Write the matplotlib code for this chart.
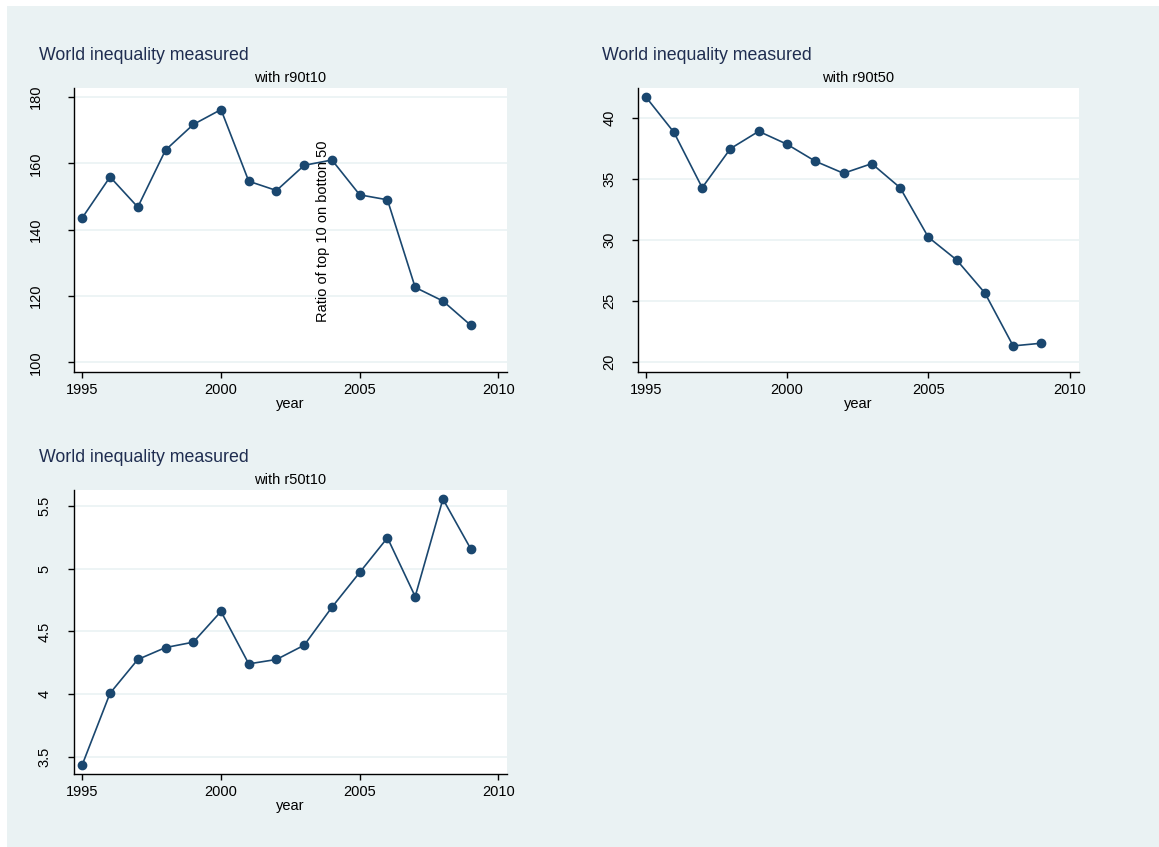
import matplotlib
matplotlib.use("Agg")
import matplotlib.pyplot as plt
from matplotlib.patches import Rectangle

plt.rcParams['font.family'] = ['Liberation Sans', 'DejaVu Sans']

# datos por año
years = list(range(1995, 2010))
r90t10 = [143.6, 155.9, 146.8, 164.0, 171.7, 176.2, 154.6, 151.8,
          159.4, 161.0, 150.5, 149.0, 122.6, 118.5, 111.2]
r90t50 = [41.77, 38.85, 34.31, 37.51, 38.93, 37.87, 36.48, 35.49,
          36.28, 34.31, 30.25, 28.39, 25.68, 21.34, 21.56]
r50t10 = [3.439, 4.008, 4.277, 4.372, 4.415, 4.660, 4.242, 4.277,
          4.391, 4.694, 4.971, 5.247, 4.779, 5.556, 5.160]

xticks = [1995, 2000, 2005, 2010]
yticks_1 = [100, 120, 140, 160, 180]
yticks_2 = [20, 25, 30, 35, 40]
yticks_3 = [3.5, 4, 4.5, 5, 5.5]
ytlabels_3 = ['3.5', '4', '4.5', '5', '5.5']

W, H = 1159, 847
BG = '#eaf2f3'
NAVY = '#1a476f'
TITLE = '#1f2d50'

fig = plt.figure(figsize=(W / 100, H / 100), dpi=100)
fig.patch.set_facecolor('white')
fig.patches.append(Rectangle((7 / W, 0), 1, 1 - 6 / H, transform=fig.transFigure,
                             facecolor=BG, edgecolor='none', zorder=-10))


def px_axes(left, top, right, bottom):
    return fig.add_axes([left / W, 1 - bottom / H, (right - left) / W, (bottom - top) / H])


def panel(box, y, yticks, ylabels, xlim, ylim, ypad, title_x, title_y, sub):
    ax = px_axes(*box)
    ax.set_facecolor('white')
    ax.plot(years, y, color=NAVY, lw=1.2, marker='o', ms=6, mfc=NAVY, mec=NAVY, zorder=3)
    ax.set_xlim(*xlim)
    ax.set_ylim(*ylim)
    ax.set_xticks(xticks)
    ax.set_yticks(yticks)
    ax.set_yticklabels(ylabels, rotation=90, va='center')
    ax.yaxis.grid(True, color=BG, lw=1.2)
    ax.set_axisbelow(True)
    for s in ['top', 'right']:
        ax.spines[s].set_visible(False)
    for s in ['left', 'bottom']:
        ax.spines[s].set_linewidth(1.0)
    ax.tick_params(axis='x', length=4, width=1, labelsize=10.5, pad=4)
    ax.tick_params(axis='y', length=4, width=1, labelsize=10.5, pad=ypad)
    ax.set_xlabel('year', fontsize=10.5, labelpad=0)
    left, top, right, bottom = box
    fig.text(title_x / W, 1 - title_y / H, 'World inequality measured',
             fontsize=12.8, color=TITLE, ha='left', va='center')
    fig.text((left + right) / 2 / W, 1 - (title_y + 23) / H, sub,
             fontsize=10.5, color='black', ha='center', va='center')
    return ax


ax1 = panel((74, 88, 507, 372), r90t10, yticks_1, [str(v) for v in yticks_1],
            (1994.7, 2010.31), (97.1, 182.7), 18.5, 39, 55, 'with r90t10')
ax2 = panel((638, 88, 1079, 372), r90t50, yticks_2, [str(v) for v in yticks_2],
            (1994.73, 2010.33), (19.2, 42.48), 11.5, 602, 55, 'with r90t50')
ax3 = panel((74, 490, 507, 774), r50t10, yticks_3, ytlabels_3,
            (1994.7, 2010.31), (3.364, 5.628), 12, 39, 457, 'with r50t10')

# titulo del eje y que quedo dentro del primer grafico
fig.text(323 / W, 1 - 322 / H, 'Ratio of top 10 on botton 50', rotation=90,
         fontsize=10.5, ha='center', va='bottom')

fig.savefig('out.png', dpi=100, facecolor=fig.get_facecolor())
